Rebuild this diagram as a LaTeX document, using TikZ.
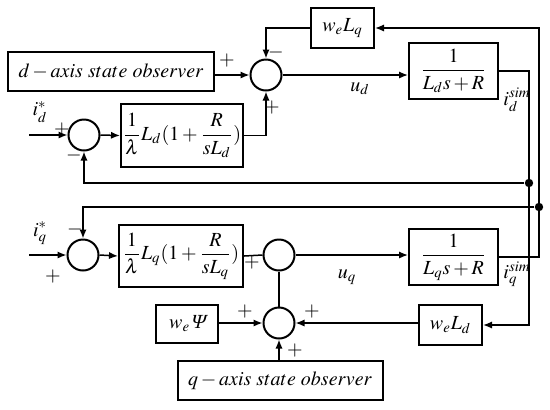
\documentclass[tikz,border=0pt]{standalone}
\usepackage{amsmath}
\usepackage{mathptmx}
\usepackage{fontspec}
\setmainfont{Liberation Serif}
\newfontfamily\slantPsi{Liberation Serif}[FakeSlant=0.25]
\usetikzlibrary{arrows.meta}

\begin{document}
\begin{tikzpicture}[>={Latex[length=4.5pt,width=3.6pt]}, x=0.5pt, y=-0.5pt,
    font=\fontsize{10}{12}\selectfont,
    block/.style={draw, line width=1pt, inner sep=0pt, align=center},
    sumNode/.style={draw, circle, line width=1pt, minimum size=15.5pt, inner sep=0pt},
    signal/.style={line width=0.75pt},
    junction/.style={circle, fill, inner sep=0pt, minimum size=4.2pt},
    sign/.style={inner sep=0pt}]

\useasboundingbox (0,0) rectangle (550,409);

% d-axis blocks
\node[block, minimum width=103pt, minimum height=19.5pt] (dObserver) at (111,71.5) {$d-axis\ state\ observer$};
\node[sumNode] (sumUd) at (266,75) {};
\node[block, minimum width=31.5pt, minimum height=20pt] (wLq) at (342.5,28) {$w_eL_q$};
\node[block, minimum width=44.5pt, minimum height=28pt] (dPlant) at (453.5,71) {$\displaystyle\frac{1}{L_ds+R}$};
\node[sumNode] (sumId) at (84,135) {};
\node[block, minimum width=61pt, minimum height=31.5pt] (dCtrl) at (182,135.5) {$\displaystyle\frac{1}{\lambda}L_d(1+\frac{R}{sL_d})$};

% q-axis blocks
\node[sumNode] (sumIq) at (83,255) {};
\node[block, minimum width=62pt, minimum height=31pt] (qCtrl) at (181,256) {$\displaystyle\frac{1}{\lambda}L_q(1+\frac{R}{sL_q})$};
\node[sumNode] (sumUq) at (279,255) {};
\node[block, minimum width=44.5pt, minimum height=28pt] (qPlant) at (453.5,257) {$\displaystyle\frac{1}{L_qs+R}$};
\node[sumNode] (sumDq) at (279,323) {};
\node[block, minimum width=31pt, minimum height=19pt] (wPsi) at (187,324) {$w_e${\slantPsi Ψ}};
\node[block, minimum width=31.5pt, minimum height=20pt] (wLd) at (450.5,325) {$w_eL_d$};
\node[block, minimum width=102.5pt, minimum height=19.5pt] (qObserver) at (280,380.5) {$q-axis\ state\ observer$};

% inputs and branch points
\coordinate (idIn) at (29,135);
\coordinate (iqIn) at (29,255);
\node[junction] (dTap) at (529,183) {};
\node[junction] (qTap) at (539,207) {};

% d-axis wiring
\draw[signal,->] (dObserver.east |- sumUd) -- (sumUd.west);
\draw[signal,->] (wLq.west) -- (wLq -| sumUd) -- (sumUd.north);
\draw[signal,->] (sumUd.east) -- (sumUd.east -| dPlant.west);
\draw[signal,->] (dPlant.east) -- (dPlant.east -| dTap) -- (dTap |- wLd) -- (wLd.east);
\draw[signal,->] (dTap) -- (sumId |- dTap) -- (sumId.south);
\draw[signal,->] (idIn) -- (sumId.west);
\draw[signal,->] (sumId.east) -- (dCtrl.west);
\draw[signal,->] (dCtrl.east) -- (dCtrl.east -| sumUd) -- (sumUd.south);

% q-axis wiring
\draw[signal,->] (qPlant.east) -- (qPlant.east -| qTap) -- (qTap |- wLq) -- (wLq.east);
\draw[signal,->] (qTap) -- (sumIq |- qTap) -- (sumIq.north);
\draw[signal,->] (iqIn) -- (sumIq.west);
\draw[signal,->] (sumIq.east) -- (qCtrl.west);
\draw[signal] (qCtrl.east) -- (sumUq.west);
\draw[signal,->] (sumUq.east) -- (sumUq.east -| qPlant.west);
\draw[signal] (sumDq.north) -- (sumUq.south);
\draw[signal,->] (wPsi.east |- sumDq) -- (sumDq.west);
\draw[signal,->] (wLd.west |- sumDq) -- (sumDq.east);
\draw[signal,->] (sumDq |- qObserver.north) -- (sumDq.south);

% signal labels
\node (udLabel) at (360,89) {$u_d$};
\node (uqLabel) at (347,277) {$u_q$};
\node[inner sep=0pt] (idSim) at (517,100) {$i_d^{sim}$};
\node[inner sep=0pt] (iqSim) at (517,274) {$i_q^{sim}$};
\node (idRef) at (40,112) {$i_d^*$};
\node (iqRef) at (40,233) {$i_q^*$};

% signs at the summing points
\node[sign] (sObsD) at (227,60) {$+$};
\node[sign] (sFbD) at (276,52) {$-$};
\node[sign] (sCtrlD) at (272,107) {$+$};
\node[sign] (sRefD) at (62,129) {$+$};
\node[sign] (sMeasD) at (74,155) {$-$};
\node[sign] (sMeasQ) at (75,229) {$-$};
\node[sign] (sRefQ) at (53,276) {$+$};
\node[sign] (sCtrlQ) at (252,262) {$+$};
\node[sign] (sPsi) at (245,311) {$+$};
\node[sign] (sFbQ) at (312,311) {$+$};
\node[sign] (sObsQ) at (295,350) {$+$};

\end{tikzpicture}
\end{document}
